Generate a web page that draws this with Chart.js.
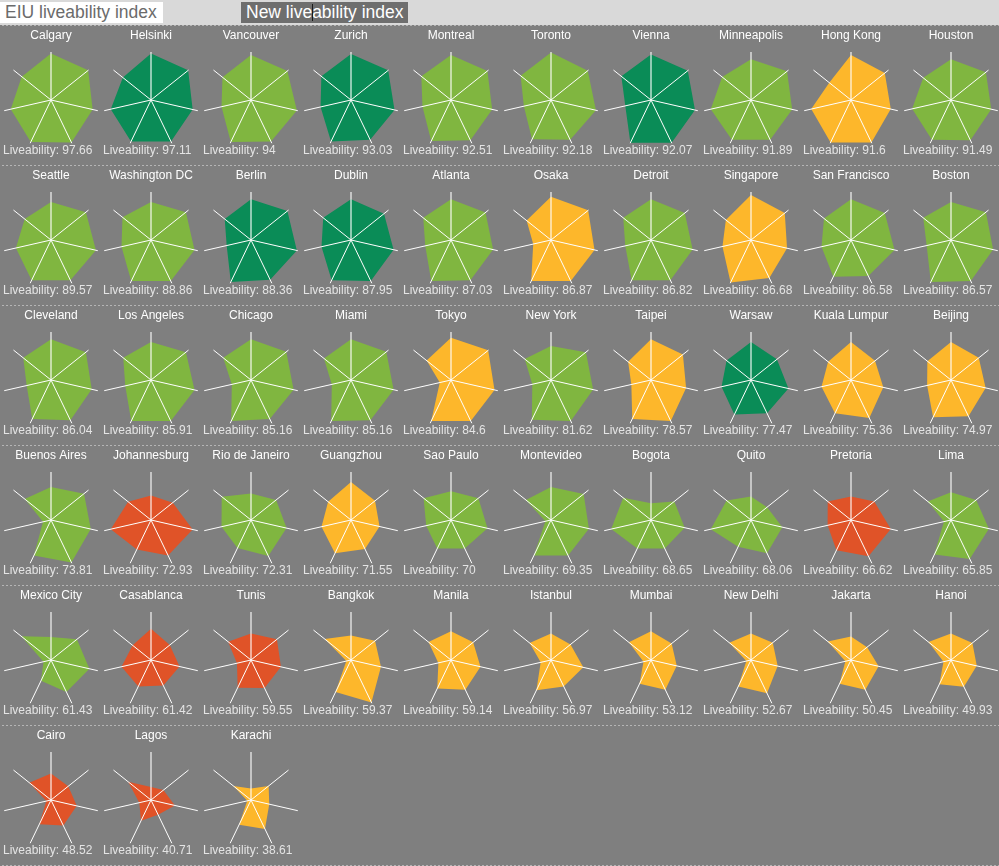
<!DOCTYPE html>
<html>
<head>
<meta charset="utf-8">
<script src="https://cdn.jsdelivr.net/npm/chart.js@4.4.1/dist/chart.umd.min.js"></script>
<style>
  html, body { margin: 0; padding: 0; }
  body { width: 999px; height: 866px; background: #d9d9d9; position: relative; overflow: hidden;
         font-family: "Liberation Sans", Arial, Helvetica, sans-serif; }
  #grid { position: absolute; left: 0; top: 25px; width: 999px; height: 841px; background: #7f7f7f; overflow: hidden; }
  .cell { position: absolute; width: 100px; height: 140px; }
  .cell canvas { display: block; }
  .sep { position: absolute; left: 2px; width: 997px; height: 1px;
         background: repeating-linear-gradient(90deg, #b5b5b5 0 2px, transparent 2px 4px); }
  .tab { position: absolute; top: 2px; height: 21px; line-height: 21px; font-size: 17.5px; padding-left: 5px; box-sizing: border-box; }
  #tab1 { left: 0; width: 163px; background: #ffffff; color: #6b6b6b; }
  #tab2 { left: 241px; width: 167px; background: #6e6e6e; color: #ffffff; }
  #caret { position: absolute; left: 312px; top: 4px; width: 1px; height: 17px; background: #1a1a1a; }
</style>
</head>
<body>
<div class="tab" id="tab1">EIU liveability index</div>
<div class="tab" id="tab2">New liveability index</div>
<div id="caret"></div>
<div id="grid"></div>
<script>
// ---- data ----
const axes = ["Sprawl", "Green space", "Natural assets", "Cultural assets", "Connectivity", "Isolation", "Pollution"];

const cities = [
  "Calgary", "Helsinki", "Vancouver", "Zurich", "Montreal", "Toronto", "Vienna", "Minneapolis", "Hong Kong", "Houston",
  "Seattle", "Washington DC", "Berlin", "Dublin", "Atlanta", "Osaka", "Detroit", "Singapore", "San Francisco", "Boston",
  "Cleveland", "Los Angeles", "Chicago", "Miami", "Tokyo", "New York", "Taipei", "Warsaw", "Kuala Lumpur", "Beijing",
  "Buenos Aires", "Johannesburg", "Rio de Janeiro", "Guangzhou", "Sao Paulo", "Montevideo", "Bogota", "Quito", "Pretoria", "Lima",
  "Mexico City", "Casablanca", "Tunis", "Bangkok", "Manila", "Istanbul", "Mumbai", "New Delhi", "Jakarta", "Hanoi",
  "Cairo", "Lagos", "Karachi"
];

const liveability = [
  "97.66", "97.11", "94", "93.03", "92.51", "92.18", "92.07", "91.89", "91.6", "91.49",
  "89.57", "88.86", "88.36", "87.95", "87.03", "86.87", "86.82", "86.68", "86.58", "86.57",
  "86.04", "85.91", "85.16", "85.16", "84.6", "81.62", "78.57", "77.47", "75.36", "74.97",
  "73.81", "72.93", "72.31", "71.55", "70", "69.35", "68.65", "68.06", "66.62", "65.85",
  "61.43", "61.42", "59.55", "59.37", "59.14", "56.97", "53.12", "52.67", "50.45", "49.93",
  "48.52", "40.71", "38.61"
];

const regions = [
  "Americas", "Europe", "Americas", "Europe", "Americas", "Americas", "Europe", "Americas", "Asia", "Americas",
  "Americas", "Americas", "Europe", "Europe", "Americas", "Asia", "Americas", "Asia", "Americas", "Americas",
  "Americas", "Americas", "Americas", "Americas", "Asia", "Americas", "Asia", "Europe", "Asia", "Asia",
  "Americas", "Africa", "Americas", "Asia", "Americas", "Americas", "Americas", "Americas", "Africa", "Americas",
  "Americas", "Africa", "Africa", "Asia", "Asia", "Asia", "Asia", "Asia", "Asia", "Asia",
  "Africa", "Africa", "Asia"
];

const scores = [
  [97, 99, 89, 98, 97, 86, 78],
  [97, 99, 89, 96, 96, 86, 75],
  [94, 97, 98, 96, 97, 63, 76],
  [96, 99, 93, 92, 96, 65, 79],
  [94, 97, 88, 93, 95, 61, 79],
  [99, 98, 96, 92, 91, 58, 81],
  [95, 98, 94, 99, 99, 55, 79],
  [85, 96, 88, 92, 92, 86, 77],
  [94, 90, 85, 98, 98, 85, 58],
  [85, 93, 86, 93, 92, 83, 74],

  [79, 93, 96, 93, 93, 75, 70],
  [79, 93, 93, 95, 95, 63, 76],
  [85, 97, 98, 92, 97, 52, 70],
  [85, 88, 91, 95, 93, 63, 74],
  [85, 92, 90, 93, 95, 55, 74],
  [90, 99, 93, 95, 95, 38, 65],
  [85, 90, 89, 93, 93, 55, 74],
  [94, 90, 77, 88, 98, 61, 67],
  [85, 90, 93, 83, 85, 63, 72],
  [79, 93, 90, 95, 97, 52, 74],

  [85, 93, 87, 93, 90, 52, 74],
  [79, 93, 93, 95, 95, 55, 74],
  [85, 94, 91, 90, 95, 41, 74],
  [85, 94, 91, 93, 95, 41, 72],
  [88, 99, 93, 95, 95, 24, 65],
  [71, 93, 90, 95, 92, 40, 70],
  [85, 85, 75, 95, 90, 42, 61],
  [79, 69, 80, 77, 80, 63, 65],
  [79, 64, 69, 88, 77, 63, 61],
  [79, 74, 74, 84, 86, 51, 63],

  [69, 88, 85, 98, 82, 17, 70],
  [51, 58, 89, 82, 68, 86, 61],
  [55, 67, 76, 83, 65, 63, 78],
  [79, 64, 61, 67, 77, 63, 61],
  [60, 73, 78, 66, 66, 53, 73],
  [69, 87, 81, 82, 82, 12, 67],
  [35, 62, 72, 66, 66, 85, 74],
  [49, 43, 67, 77, 62, 86, 65],
  [49, 62, 85, 84, 70, 50, 62],
  [58, 67, 81, 90, 80, 15, 62],

  [48, 69, 82, 74, 48, 16, 79],
  [65, 50, 61, 59, 61, 63, 49],
  [55, 69, 64, 65, 64, 30, 61],
  [51, 64, 64, 98, 74, 10, 70],
  [60, 59, 63, 69, 66, 27, 60],
  [55, 52, 69, 61, 70, 22, 57],
  [60, 55, 55, 69, 55, 16, 59],
  [55, 58, 57, 77, 61, 10, 58],
  [49, 43, 59, 69, 55, 12, 62],
  [55, 57, 55, 62, 56, 16, 60],

  [55, 46, 55, 59, 56, 10, 58],
  [27, 33, 51, 34, 48, 25, 61],
  [24, 47, 39, 67, 57, 8, 47]
];

const regionColors = { Americas: "#80b640", Europe: "#0a8c57", Asia: "#fdb72b", Africa: "#e05328" };

// ---- layout ----
const COLS = 10, CELL_W = 100, CELL_H = 140;
const grid = document.getElementById("grid");
const FONT = '"Liberation Sans", Arial, Helvetica, sans-serif';

for (let r = 0; r <= 6; r++) {
  const s = document.createElement("div");
  s.className = "sep";
  s.style.top = (r * CELL_H) + "px";
  grid.appendChild(s);
}

cities.forEach((city, i) => {
  const cell = document.createElement("div");
  cell.className = "cell";
  cell.style.left = ((i % COLS) * CELL_W) + "px";
  cell.style.top = (Math.floor(i / COLS) * CELL_H + 1) + "px";
  const cv = document.createElement("canvas");
  cv.width = CELL_W; cv.height = CELL_H;
  cv.style.width = CELL_W + "px"; cv.style.height = CELL_H + "px";
  cell.appendChild(cv);
  grid.appendChild(cell);

  new Chart(cv, {
    type: "radar",
    data: {
      labels: axes,
      datasets: [{
        data: scores[i],
        backgroundColor: regionColors[regions[i]],
        borderColor: "rgba(0,0,0,0)",
        borderWidth: 0,
        pointRadius: 0,
        pointHoverRadius: 0,
        fill: true
      }]
    },
    options: {
      responsive: false,
      animation: false,
      events: [],
      layout: { padding: { top: 0, left: 3, right: 1, bottom: 0 } },
      plugins: {
        legend: { display: false },
        tooltip: { enabled: false },
        title: {
          display: true, text: city, color: "#ffffff", align: "center",
          font: { family: FONT, size: 12, weight: "normal", lineHeight: 1.2 },
          padding: { top: 2.8, bottom: 8.8 }
        },
        subtitle: {
          display: true, position: "bottom", align: "start",
          text: "Liveability: " + liveability[i], color: "#e4e4e4",
          font: { family: FONT, size: 12, weight: "normal", lineHeight: 1.2 },
          padding: { top: -4.2, bottom: 7.8 }
        }
      },
      scales: {
        r: {
          min: 0, max: 100,
          startAngle: 0,
          grid: { display: false, z: 1 },
          ticks: { display: false, z: 1 },
          pointLabels: { display: false },
          angleLines: {
            display: true,
            color: (ctx) => ctx.index === 0 ? "rgba(255,255,255,0.55)" : "#ffffff",
            lineWidth: (ctx) => ctx.index === 0 ? 2 : 1
          }
        }
      }
    }
  });
});
</script>
</body>
</html>
